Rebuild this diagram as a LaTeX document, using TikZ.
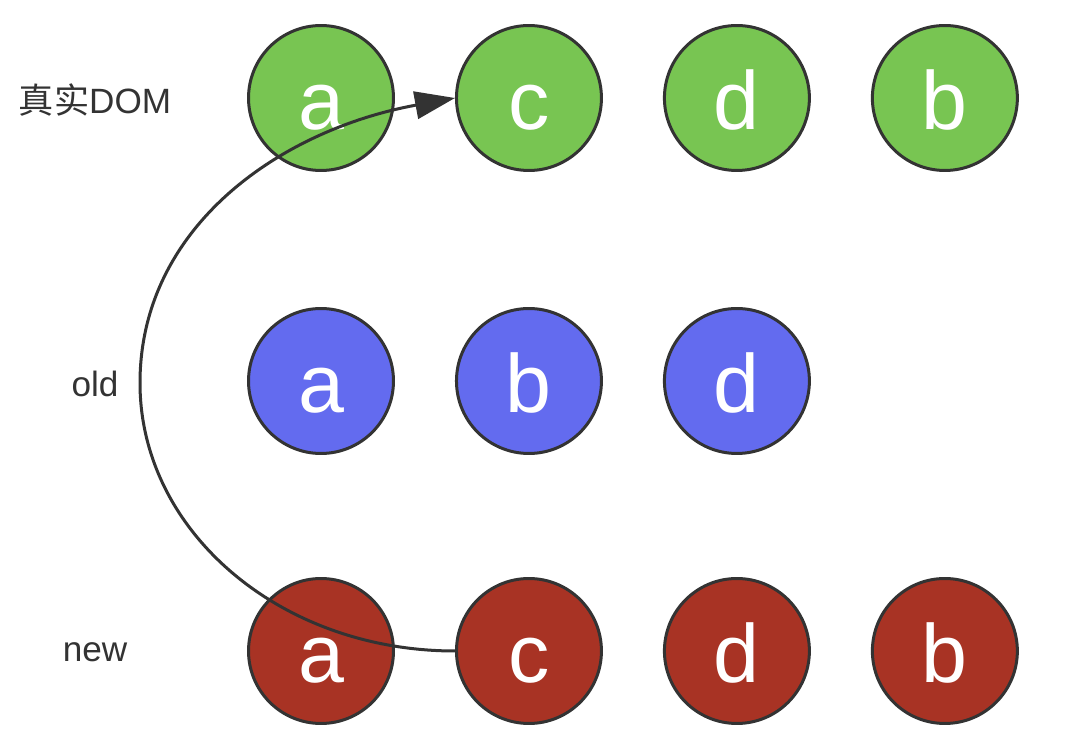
\documentclass[tikz,border=0pt]{standalone}
\usepackage{fontspec}
\setmainfont{Liberation Sans}
\newfontfamily\cjkfont{Noto Sans CJK SC}
\usepackage{xcolor}
\usetikzlibrary{arrows.meta,positioning}
\definecolor{domgreen}{HTML}{78C552}
\definecolor{oldblue}{HTML}{636BEF}
\definecolor{newred}{HTML}{A83324}
\definecolor{rimgray}{HTML}{333333}
\tikzset{
  vnode/.style={circle, draw=rimgray, line width=0.06cm, minimum size=2.9cm,
    inner sep=0pt, text=white, text height=1.28cm, text depth=0pt,
    font=\fontsize{47}{47}\selectfont},
  domnode/.style={vnode, fill=domgreen},
  oldnode/.style={vnode, fill=oldblue},
  newnode/.style={vnode, fill=newred},
  rowlabel/.style={font=\fontsize{20}{24}\selectfont, text=rimgray},
  movearrow/.style={-{Triangle[length=0.8cm,width=0.55cm]}, line width=0.06cm, draw=rimgray}
}

\begin{document}
\begin{tikzpicture}[x=0.02cm, y=0.02cm, node distance=1.2cm]
    \useasboundingbox (0,0) rectangle (1080,-739);

    % row labels
    \node[rowlabel] (lreal) at (95,-100) {{\cjkfont 真实}DOM};
    \node[rowlabel] (lold) at (95,-384) {old};
    \node[rowlabel] (lnew) at (95,-652) {new};

    % real DOM
    \node[domnode] (g1) at (321,-98) {a};
    \node[domnode, right=of g1] (g2) {c};
    \node[domnode, right=of g2] (g3) {d};
    \node[domnode, right=of g3] (g4) {b};

    % old vnodes
    \node[oldnode] (o1) at (321,-381) {a};
    \node[oldnode, right=of o1] (o2) {b};
    \node[oldnode, right=of o2] (o3) {d};

    % new vnodes
    \node[newnode] (n1) at (321,-651) {a};
    \node[newnode, right=of n1] (n2) {c};
    \node[newnode, right=of n2] (n3) {d};
    \node[newnode, right=of n3] (n4) {b};

    % c is moved in front
    \draw[movearrow] (n2.west) .. controls (280,-651) and (140,-531) .. (140,-383)
        .. controls (140,-227) and (280,-130) .. (g2.west);
\end{tikzpicture}
\end{document}
